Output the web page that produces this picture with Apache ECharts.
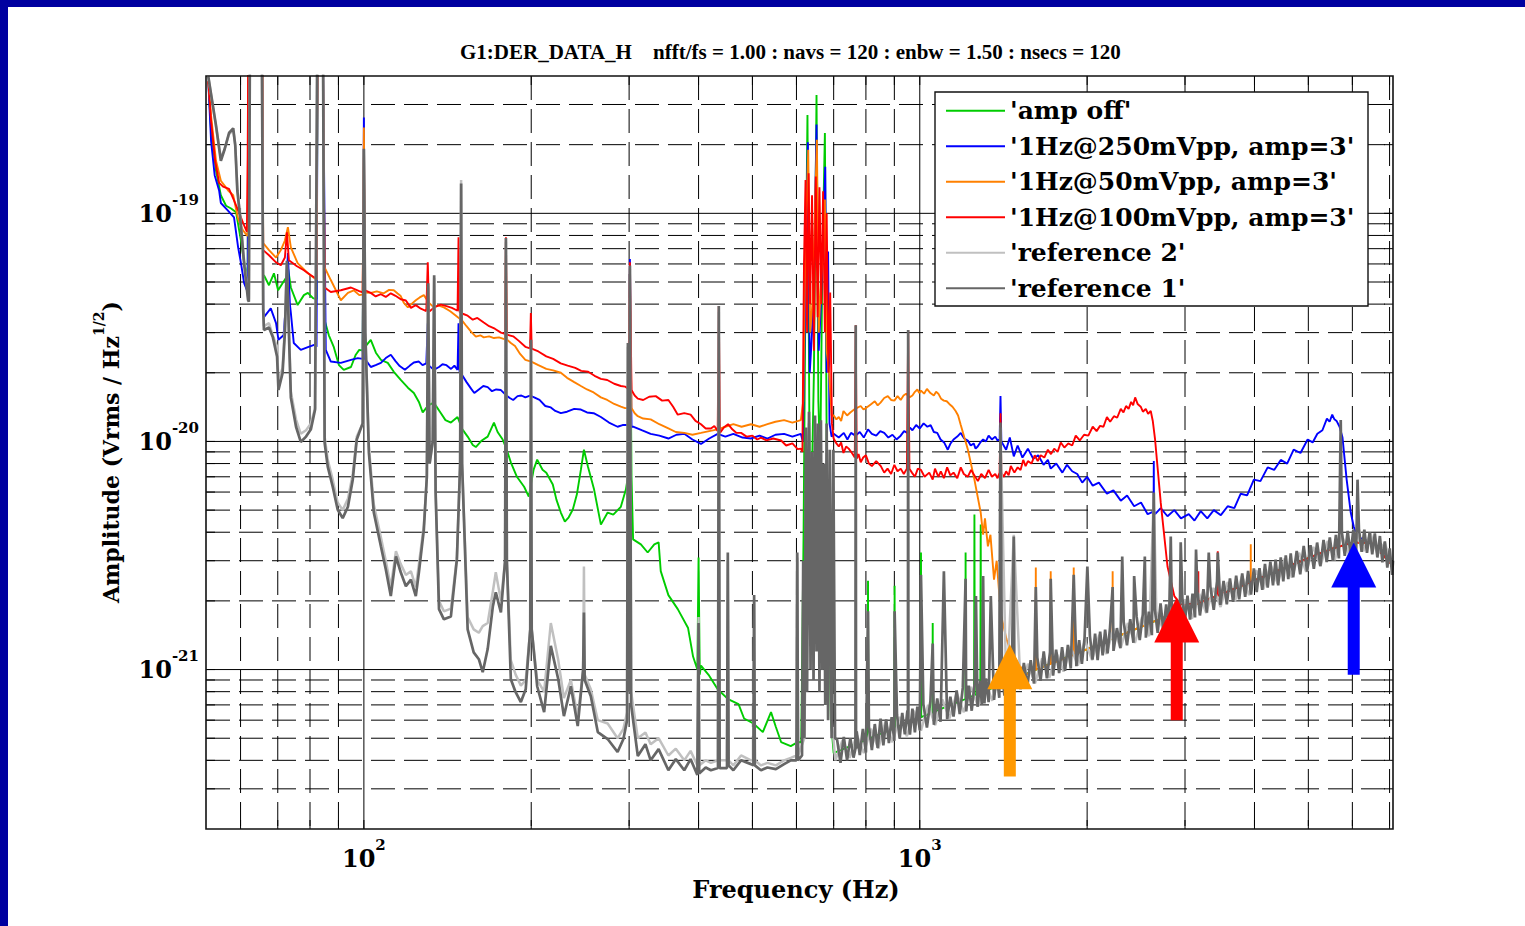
<!DOCTYPE html>
<html><head><meta charset="utf-8">
<script src="https://cdn.jsdelivr.net/npm/echarts@6.0.0/dist/echarts.min.js"></script>
<style>html,body{margin:0;padding:0;background:#fff;overflow:hidden}#c{width:1525px;height:926px}</style>
</head><body><div id="c"></div>
<script>
// Amplitudes are in units of 1e-21 Vrms/Hz^(1/2); frequencies in Hz.
const TITLE_CHANNEL = 'G1:DER_DATA_H';
const TITLE_PARAMS = 'nfft/fs = 1.00 : navs = 120 : enbw = 1.50 : nsecs = 120';
const X_NAME = 'Frequency (Hz)';
const SERIES_NAMES = ["'amp off'", "'1Hz@250mVpp, amp=3'", "'1Hz@50mVpp, amp=3'", "'1Hz@100mVpp, amp=3'", "'reference 2'", "'reference 1'"];
const X_RANGE = [52, 7100];
const Y_RANGE = [0.2, 400];
const Y_UNIT_EXP = -21;
const xGridHz = [60,70,80,90,100,200,300,400,500,600,700,800,900,1000,2000,3000,4000,5000,6000,7000];
const yGridUnits = [0.3,0.4,0.5,0.6,0.7,0.8,0.9,1,2,3,4,5,6,7,8,9,10,20,30,40,50,60,70,80,90,100,200,300];

const ampOff = [[52.5,380],[53.1,231],[54.2,154],[55.3,120],[56.5,108],[57.7,105],[58.9,101],[60.1,76],[60.9,61],[61.6,53.5],[61.8,53],[62.0,700],[65.6,700],[65.9,52],[66.1,53.5],[67.5,48.4],[68.9,54.6],[70.1,46],[71.4,49.4],[72.4,52],[73.0,58],[73.9,47.3],[76.0,39.6],[78.0,43.8],[79.3,44.8],[81.0,42.5],[82.2,42],[82.6,700],[84.3,700],[85.0,34],[86.5,29.2],[88.3,25.9],[90.2,21.6],[92.0,20.6],[94.8,21.2],[96.7,24],[98.1,25.2],[99.5,25],[100,190],[100.5,26],[102.9,27.9],[105.1,24.5],[107.3,22.8],[110.4,22.1],[113.2,20.2],[116.5,18.6],[120,17.2],[123,16.3],[125.6,14.9],[127.6,13.4],[130.6,14.4],[133.6,14.8],[137.6,13.3],[140.2,12.4],[143.4,12.1],[147.4,12.8],[150.4,11.3],[153.7,10.5],[157,9.65],[159,9.45],[163,10.1],[167,10.5],[171.4,12.1],[174,11],[177.7,10.2],[180.7,9.2],[183.8,8.1],[188.5,7.0],[194.2,6.33],[198,5.73],[202,7.52],[205,8.32],[209.6,7.52],[212.9,7.29],[218.7,6.47],[222,5.56],[226.1,4.88],[229.9,4.45],[233.6,4.65],[237.6,5.03],[241.6,5.85],[245.7,7.52],[248.8,9.2],[253,7.75],[259.5,6.15],[266.9,4.32],[274.5,4.88],[281,4.78],[289.9,5.17],[296,6.15],[298.5,7.0],[299.5,7],[301,58],[303,7],[305,3.72],[315,3.54],[324,3.26],[333,3.54],[339,3.61],[342,2.7],[353,2.12],[367,1.84],[383,1.52],[391,1.14],[398,1.0],[400,3.1],[402,0.95],[404,1.04],[418,0.94],[433,0.82],[452,0.742],[472,0.705],[483,0.61],[502,0.58],[522,0.532],[540,0.651],[551,0.56],[563,0.481],[586,0.462],[603,0.481],[612,0.48],[618,4],[622,30],[628,270],[633,12],[638,5],[645,20],[652,330],[657,15],[662,8],[668,60],[675,225],[680,10],[686,2],[692,0.6],[700,0.43],[720,0.443],[760,0.467],[800,0.492],[806,0.495],[807,2.45],[808,0.497],[850,0.523],[900,0.554],[901,2.33],[902,0.555],[950,0.584],[1000,0.615],[1004,0.617],[1005,3.26],[1006,0.619],[1054,0.648],[1055,1.6],[1056,0.65],[1100,0.677],[1200,0.738],[1208,0.743],[1209,3.26],[1210,0.744],[1252,0.77],[1254,4.78],[1256,0.772],[1285,0.79],[1287,4.32],[1289,0.793],[1350,0.83],[1400,0.861],[1500,0.923],[1700,1.05],[2000,1.23],[2500,1.54],[3000,1.85],[3500,2.15],[4000,2.46],[4500,2.77],[5000,3.08],[5500,3.38],[6000,3.6],[6500,3.6],[7100,2.85]];

const amp250 = [[52.5,380],[53.1,208],[53.9,147],[54.9,126],[55.3,111],[56.9,103],[58.4,96],[59.4,71],[60.1,60.5],[60.9,49.4],[61.6,46],[61.8,46],[62.0,700],[65.6,700],[65.9,38],[66.1,35.1],[68.0,38.3],[69.5,33.0],[70.2,27.9],[71.7,29.2],[72.4,40],[73.0,67],[73.6,40],[73.9,36.6],[74.8,27],[77.0,25.2],[79.3,25.9],[81.4,26.5],[82.2,26],[82.6,700],[84.3,700],[85.4,25.2],[87.2,22.4],[90.9,22.1],[94.8,22.8],[97.5,23.2],[99.5,23],[100,263],[100.5,23],[102.9,21.2],[105,21.6],[107.3,22.1],[109.5,23.2],[111.8,24],[114,22.5],[116,21.4],[118.5,20.6],[121,21.5],[123,22.2],[125.6,22.4],[127.5,21.6],[129.5,22],[130.3,33],[131,21.5],[133.6,20.6],[136.5,21.2],[138.5,21.8],[140.8,21.6],[143.5,20.8],[145.5,21.5],[147.4,20.6],[148,33],[148.6,20.3],[150.5,19.4],[153,18.2],[156,17.0],[158,16.3],[161,16.9],[164,17.5],[167,17.3],[170,16.6],[173,16.9],[176.4,16.8],[180,16.0],[183,15.5],[185.6,15.2],[189,15.8],[192,15.9],[195.2,15.6],[199,15.9],[202.5,15.6],[207,15.2],[212,14.3],[216.9,14.1],[221,13.6],[226.1,13.3],[232,13.5],[239,13.9],[245.7,13.8],[252,13.4],[259,13.3],[266.9,12.8],[276,12.1],[286,11.6],[292,11.8],[299,11.8],[301,63],[303,11.6],[305,11.6],[316,11.2],[328,10.8],[340,10.6],[353,10.3],[365,10.7],[377,10.8],[390,10.2],[404,9.75],[418,10.3],[433,10.8],[447,10.5],[462,10.8],[480,10.4],[497,10.3],[515,10.6],[532,10.3],[550,10.7],[570,10.8],[590,10.5],[611,10.8],[616,10],[622,40],[629,205],[634,20],[640,30],[646,60],[652,245],[658,25],[664,40],[670,80],[676,160],[680,20],[684,68],[688,12],[694,10.5],[700,10.8],[715,10.4],[730,10.9],[741,10.2],[752,10.9],[766,10.6],[780,11.0],[793,10.4],[807,11.3],[820,10.8],[835,10.6],[849,11.1],[863,10.9],[878,10.4],[893,10.7],[908,10.2],[924,10.6],[937,11.1],[950,10.9],[960,11.5],[970,11.2],[985,11.8],[1000,11.4],[1016,12.0],[1032,11.6],[1046,11.8],[1060,11.0],[1075,10.9],[1090,10.2],[1106,9.9],[1123,9.2],[1136,9.8],[1150,10.2],[1168,10.5],[1185,10.9],[1202,10.3],[1220,10.1],[1235,9.6],[1250,9.8],[1260,9.3],[1271,9.5],[1285,9.9],[1300,10.2],[1315,10.0],[1330,10.6],[1348,10.2],[1367,10.5],[1380,10.1],[1392,10.2],[1397,15.8],[1402,10.0],[1430,9.2],[1452,10.4],[1476,8.6],[1500,9.6],[1530,8.5],[1565,9.3],[1600,8.4],[1633,8.7],[1670,7.9],[1700,8.3],[1720,7.6],[1760,8.0],[1805,7.3],[1840,7.9],[1880,7.4],[1920,7.2],[1960,6.6],[2000,7.0],[2047,6.4],[2100,6.6],[2171,5.9],[2230,6.1],[2299,5.5],[2360,5.8],[2430,5.2],[2500,5.4],[2570,4.8],[2620,4.9],[2634,5.0],[2636,8.2],[2638,5.0],[2650,4.8],[2713,5.1],[2790,4.7],[2870,5.0],[2950,4.6],[3047,4.8],[3120,4.5],[3202,4.95],[3290,4.6],[3380,5.0],[3480,4.75],[3580,5.2],[3680,5.1],[3779,5.9],[3880,5.8],[3990,6.8],[4100,6.7],[4225,7.7],[4340,7.5],[4460,8.3],[4580,8.0],[4705,9.2],[4840,8.9],[4985,10.2],[5090,9.9],[5190,10.8],[5300,11.2],[5400,12.6],[5460,12.2],[5520,13.1],[5570,12.5],[5620,12.3],[5690,11.6],[5760,10.4],[5860,6.8],[5960,4.88],[6034,4.24],[6110,3.83],[6500,3.6],[7100,2.85]];

const amp50 = [[52.5,380],[53.1,268],[54.2,170],[55.3,139],[57.0,126],[58.2,120],[59.4,94.5],[60.6,84.3],[61.6,80],[61.8,80],[62.0,700],[65.6,700],[65.9,74],[67.5,69],[69.5,64],[70.9,69],[72.1,76],[73.0,87],[73.9,71],[76.0,60.5],[79.3,54.6],[81.5,52],[82.2,51],[82.6,700],[84.3,700],[85.0,58],[87.2,51],[90.9,41.6],[93.6,44.8],[95.9,46],[98.1,43.8],[99.5,44],[100,238],[100.5,45],[102.9,44.8],[105.5,45.5],[108.6,44.6],[111,46.2],[113.2,46],[115,44.5],[116.5,43.4],[118,40.5],[120,38.7],[122,40.2],[124,41.6],[126,42.8],[128.2,43.8],[131,40.5],[133.6,38.7],[136,39.5],[139.3,38.7],[143,37.2],[147.4,35.1],[150,34.0],[153,32],[156,30.2],[159,28.8],[162,29.2],[164.3,28.6],[168,28.9],[171.4,28.4],[175,28.6],[179.5,28],[180.1,65],[180.8,28],[183.8,27],[187,26.2],[191,24.2],[195.2,22.8],[200,22.4],[206,21.6],[212.9,20.8],[219,20.5],[226.1,20],[232,19.0],[239,18.2],[245.7,17.5],[252,16.9],[259,16.4],[266.9,15.6],[274,15.2],[282,14.6],[289.9,14.2],[295,14.0],[299,14],[301,50],[303,14],[307,13.3],[311,12.9],[318,12.6],[328,12.5],[340,11.9],[353,11.4],[364,11.0],[377,10.9],[390,10.7],[404,10.9],[418,11.1],[433,11.3],[447,11.6],[462,11.9],[478,11.6],[497,11.9],[515,11.6],[532,11.9],[550,12.2],[570,12.4],[590,12.1],[611,12.4],[617,15],[622,60],[630,190],[635,30],[641,40],[647,90],[653,210],[658,30],[664,50],[670,70],[675,115],[680,25],[687,20],[694,13],[700,13.0],[708,12.5],[715,12.8],[722,12.3],[729,13.6],[740,13.0],[750,13.4],[765,13.9],[783,14.3],[792,13.8],[800,14.0],[815,14.5],[830,15.0],[840,14.4],[850,14.8],[863,15.5],[876,15.8],[888,15.2],[900,15.1],[912,15.8],[924,15.2],[935,15.9],[945,16.2],[958,15.6],[970,15.9],[980,16.5],[990,16.9],[998,16.3],[1005,16.7],[1018,16.2],[1030,17.0],[1045,16.3],[1060,15.9],[1070,16.5],[1080,16.2],[1092,15.4],[1105,15.1],[1118,15.0],[1130,14.6],[1145,14.2],[1160,13.6],[1172,13.0],[1185,11.8],[1220,9.25],[1254,6.8],[1287,4.88],[1300,3.9],[1310,4.6],[1326,3.47],[1340,3.9],[1360,2.48],[1375,3.0],[1399,1.75],[1432,1.36],[1458,1.2],[1550,0.95],[1616,1.0],[1617,2.8],[1618,1.0],[1719,1.06],[1720,2.7],[1721,1.06],[1891,1.16],[1892,2.8],[1893,1.16],[2000,1.23],[2222,1.37],[2223,2.7],[2224,1.37],[2600,1.6],[3000,1.85],[3500,2.15],[3938,2.42],[3939,3.54],[3940,2.42],[4500,2.77],[5000,3.08],[5500,3.38],[6000,3.6],[6500,3.6],[7100,2.85]];

const amp100 = [[52.5,382],[53.1,255],[54.0,170],[54.9,136],[55.8,131],[57.2,128],[58.4,114],[59.6,101],[60.6,91],[61.6,83],[61.8,180],[62.0,700],[65.6,700],[65.9,69],[67.5,65.5],[69.5,61],[70.9,59.2],[72.1,64],[72.7,82.6],[73.3,62.3],[75.8,58.6],[78.0,56.3],[80.3,53.5],[82.0,51.8],[82.6,700],[84.3,700],[85.0,47.3],[87.2,45.2],[90.9,46],[94.8,47.3],[98.1,45.6],[99.5,45],[100,175],[100.5,46],[102.9,44.8],[105,43.2],[107.3,44.2],[109.5,43.0],[111.8,44.6],[114,43.5],[116.5,42.0],[119,41.5],[121.5,38.5],[124,39.6],[126.6,38.2],[129.5,37.3],[130.3,61],[131,37],[134,38.8],[137.6,39.8],[140.8,39.2],[144,38.5],[147.4,37.4],[148,78.5],[148.6,37],[151,36.2],[153.7,35.6],[157,34.2],[160,34.8],[164.3,33.2],[168,32.0],[172,31.2],[176.4,30.0],[179.4,29.6],[180.1,78.5],[180.8,29.4],[185.6,28.9],[190,27.6],[195.2,26.0],[199,25.6],[199.7,36.6],[200.4,25.5],[206,24.8],[212.9,23.6],[219,23.0],[226,22.0],[232.6,21.5],[240,21.0],[246,20.4],[253.2,20.2],[260,19.4],[266.9,18.8],[274,18.6],[282,17.9],[289.9,17.5],[295,17.4],[299,17],[301,61],[303,16.8],[307,15.9],[311,15.4],[318,15.2],[326,15.7],[335,15.8],[344,15.1],[353,15.2],[360,14.2],[367,13.1],[377,13.3],[387,13.1],[395,12.3],[404,11.9],[412,11.4],[421,11.4],[427,11.7],[433,11.1],[435,39.2],[437,10.9],[444,11.5],[452,11.9],[460,11.3],[468,10.9],[477,10.9],[488,10.5],[500,10.6],[510,10.2],[518,10.4],[530,10.1],[545,10.3],[563,10.1],[575,9.6],[590,9.8],[603,9.25],[611,9.3],[615,9],[619,60],[623,140],[627,30],[631,150],[635,40],[640,120],[645,25],[650,145],[655,35],[660,130],[665,40],[670,125],[675,30],[680,100],[685,20],[690,45],[695,12],[700,10.3],[708,9.8],[715,9.5],[722,9.9],[729,8.9],[737,9.5],[745,9.3],[755,8.9],[764,8.5],[767,32.3],[770,8.4],[776,8.8],[783,8.1],[791,8.5],[800,8.7],[810,8.0],[820,7.8],[835,8.2],[851,7.8],[863,7.3],[875,7.6],[888,7.2],[900,7.9],[912,7.4],[924,7.6],[936,7.2],[948,7.6],[953,30.8],[958,7.6],[968,7.3],[980,7.0],[992,7.6],[1005,7.5],[1020,7.0],[1040,7.3],[1055,6.8],[1065,7.6],[1080,7.0],[1091,7.4],[1105,6.9],[1120,7.7],[1135,7.1],[1150,7.3],[1168,6.9],[1185,7.7],[1200,7.2],[1220,7.0],[1237,7.5],[1254,7.1],[1272,6.7],[1290,7.2],[1310,6.9],[1330,7.5],[1348,7.0],[1367,7.2],[1380,6.9],[1392,7.3],[1397,13.3],[1402,7.3],[1416,7.0],[1430,7.4],[1445,7.1],[1458,7.8],[1480,7.3],[1500,7.7],[1518,7.5],[1535,8.3],[1550,7.8],[1565,8.2],[1588,8.0],[1610,8.7],[1630,8.2],[1650,8.7],[1675,8.5],[1700,9.2],[1722,8.8],[1745,9.3],[1770,9.0],[1793,9.9],[1820,9.4],[1850,9.8],[1880,9.6],[1908,10.6],[1940,10.1],[1975,10.7],[2010,10.6],[2047,11.6],[2080,11.1],[2110,11.7],[2140,11.6],[2171,12.8],[2200,12.2],[2235,12.9],[2265,12.7],[2299,13.9],[2325,13.4],[2350,14.3],[2375,13.9],[2400,14.9],[2420,14.4],[2440,15.6],[2465,14.6],[2497,14.2],[2520,13.5],[2550,13.9],[2575,13.2],[2603,13.6],[2625,12.3],[2650,10.2],[2713,5.39],[2790,2.83],[2870,2.1],[2947,1.93],[3169,1.95],[3170,2.7],[3171,1.95],[3435,2.11],[3436,3.3],[3437,2.11],[4000,2.46],[4500,2.77],[5000,3.08],[5500,3.38],[6000,3.6],[6500,3.6],[7100,2.85]];

const ref2 = [[52.5,397],[54.2,240],[55.3,175],[56.1,190],[57.2,222],[58.2,232],[58.7,200],[59.2,130],[59.9,98],[60.9,62],[61.9,43],[62.1,42],[62.4,700],[65.5,700],[65.9,40],[66.1,32],[67.5,33],[68.6,29],[69.8,26],[70.2,18.5],[71.4,21],[72.1,32],[72.7,60],[73.3,32],[73.9,16.5],[75.5,12.5],[77.0,10.8],[78.7,11.2],[80.3,12],[81.7,14],[82.5,700],[84.4,700],[85.0,10.5],[86.1,8.3],[87.9,6.8],[89.7,5.4],[91.6,5.0],[93.6,5.6],[95.5,7.2],[97.1,10.5],[99.5,12],[100,190],[100.6,30],[102.1,9.5],[104.2,5.3],[107.3,3.8],[109.5,3.0],[111.8,2.3],[114.2,3.3],[116.5,2.9],[119,2.6],[121.5,2.7],[124,2.3],[125.6,2.9],[128.2,4.3],[129.8,7],[130.5,48],[131.3,8],[133,10],[133.8,52],[134.6,6],[136.5,2.0],[139.3,1.8],[143.4,1.85],[147,3.1],[149,8],[149.6,140],[150.2,8],[153.7,1.7],[157.6,1.5],[161,1.45],[163.6,1.55],[167,1.6],[170.6,2.2],[172.7,2.67],[176.4,2.0],[179.5,3],[180.1,75],[180.8,3],[183.8,1.1],[187.5,0.95],[191.6,0.85],[195.5,0.9],[199.2,1.5],[199.8,27],[200.4,1.5],[205,0.9],[211,0.8],[216.9,1.6],[223.7,1.1],[229,0.75],[235.7,0.9],[242.5,0.62],[248,1.0],[248.8,2.83],[249.6,0.95],[256,0.82],[263.5,0.6],[274.5,0.58],[286,0.5],[293,0.55],[297.5,0.65],[298.5,26],[299.5,0.8],[301,57],[302.5,0.8],[311,0.5],[321,0.53],[328,0.47],[339,0.5],[353,0.42],[364,0.45],[377,0.4],[387,0.44],[398,0.38],[400,1.7],[401,0.38],[412,0.4],[421,0.39],[433.5,0.4],[435,37],[436.5,0.4],[450,0.4],[451.5,3.0],[453,0.4],[462,0.38],[477,0.42],[497,0.4],[502,0.4],[503.5,2.0],[505,0.4],[518,0.38],[532,0.39],[551,0.38],[570,0.4],[586,0.41],[600,0.42],[602,3.1],[604,0.42],[620,0.5],[632,12],[640,1.0],[656,11],[668,1.0],[680,10],[694,0.6],[705,0.40],[726,0.49],[748,0.41],[770,0.52],[793,0.43],[817,0.55],[842,0.45],[867,0.59],[893,0.48],[920,0.62],[948,0.51],[976,0.66],[1005,0.54],[1035,0.70],[1066,0.57],[1098,0.74],[1131,0.61],[1165,0.79],[1200,0.65],[1236,0.84],[1273,0.69],[1311,0.89],[1350,0.73],[1390,0.94],[1397,11.5],[1432,0.77],[1476,3.9],[1519,0.82],[1565,1.06],[1612,0.87],[1660,1.12],[1710,0.92],[1761,1.19],[1814,0.98],[1868,1.26],[1924,1.04],[1982,1.34],[2041,1.10],[2103,1.42],[2166,1.17],[2231,1.51],[2298,1.24],[2367,1.60],[2438,1.31],[2511,1.70],[2586,1.40],[2636,5.9],[2664,1.80],[2744,1.48],[2826,1.91],[2911,1.57],[2998,2.03],[3088,1.67],[3181,2.15],[3276,1.77],[3375,2.28],[3476,1.88],[3580,2.42],[3688,1.99],[3798,2.57],[3912,2.12],[4030,2.73],[4151,2.25],[4275,2.89],[4403,2.38],[4535,3.07],[4671,2.53],[4812,3.25],[4956,2.68],[5105,3.45],[5258,2.84],[5416,3.66],[5578,3.02],[5746,3.88],[5918,3.18],[6096,4.0],[6279,3.3],[6467,3.95],[6661,3.2],[6861,3.6],[7067,2.85],[7100,2.9]];

const ref1 = [[52.5,397],[54.2,243],[55.3,170],[56.1,189],[57.2,225],[58.2,236],[58.7,198],[59.2,126],[59.9,96],[60.9,60],[61.9,41.6],[62.1,41],[62.4,700],[65.5,700],[65.9,38],[66.1,30.8],[67.5,31.6],[68.6,28.6],[69.8,23.5],[70.2,16.8],[71.4,19.9],[72.1,30],[72.7,62],[73.3,30],[73.9,15.6],[75.5,11.6],[77.0,9.95],[78.7,10.5],[80.3,11.3],[81.7,13.8],[82.5,700],[84.4,700],[85.0,9.85],[86.1,7.75],[87.9,6.33],[89.7,5.03],[91.6,4.61],[93.6,5.17],[95.5,6.8],[97.1,10.2],[99.5,12],[100,192],[100.6,30],[102.1,8.93],[104.2,4.88],[107.3,3.47],[109.5,2.75],[111.8,2.1],[114.2,3.13],[116.5,2.67],[119,2.32],[121.5,2.48],[124,2.1],[125.6,2.67],[128.2,4.11],[129.8,7],[130.5,49.4],[131.3,8],[133,10],[133.8,53.5],[134.6,6],[136.5,1.84],[139.3,1.66],[143.4,1.71],[147,3.04],[149,8],[149.6,135],[150.2,8],[153.7,1.5],[157.6,1.19],[161,1.11],[163.6,0.974],[167,1.23],[170.6,1.89],[172.7,2.18],[176.4,1.78],[179.5,3],[180.1,78],[180.8,3],[183.8,0.907],[187.5,0.796],[191.6,0.72],[195.5,0.82],[199.2,1.5],[199.8,27.9],[200.4,1.5],[205,0.845],[211,0.651],[216.9,1.27],[223.7,0.907],[229,0.625],[235.7,0.845],[242.5,0.565],[248,1.0],[248.8,1.78],[249.6,0.9],[256,0.764],[263.5,0.532],[274.5,0.496],[286,0.435],[293,0.496],[297.5,0.6],[298.5,27],[299.5,0.8],[301,59],[302.5,0.7],[311,0.418],[321,0.471],[328,0.40],[339,0.448],[353,0.362],[364,0.405],[377,0.362],[387,0.405],[398,0.345],[400,1.6],[401,0.35],[412,0.372],[421,0.362],[433.5,0.37],[435,39.2],[436.5,0.37],[450,0.37],[451.5,3.26],[453,0.38],[462,0.362],[477,0.40],[497,0.385],[502,0.38],[503.5,2.12],[505,0.38],[518,0.362],[532,0.372],[551,0.366],[570,0.385],[586,0.40],[600,0.4],[602,3.26],[604,0.4],[614,0.42],[617,3.0],[620,0.5],[624,11.5],[627,0.8],[632,13.5],[636,1.0],[640,9],[644,0.9],[648,13.0],[652,1.2],[656,12.0],[660,0.8],[664,12.4],[668,1.0],[672,8],[676,0.7],[680,12],[684,0.6],[689,9.2],[694,0.5],[699,9.2],[704,0.5],
[710,0.493],[720,0.390],[730,0.507],[740,0.400],[750,0.50],[760,0.411],[766,0.45],[767,32.3],[768,0.45],[770,0.535],[780,0.422],[790,0.549],[800,0.433],[807,1.8],[810,0.563],[820,0.444],[830,0.577],[840,0.454],[850,0.61],[860,0.465],[870,0.605],[880,0.476],[890,0.619],[900,0.487],[901,1.8],[910,0.632],[920,0.498],[930,0.646],[940,0.52],[950,0.660],[952,0.6],[953,30.8],[954,0.6],[960,0.519],[970,0.674],[980,0.530],[990,0.688],[1000,0.541],[1005,2.6],[1015,0.705],[1030,0.557],[1045,0.726],[1055,1.3],[1060,0.573],[1075,0.747],[1090,0.590],[1105,2.7],[1120,0.606],[1135,0.76],[1150,0.622],[1165,0.810],[1180,0.638],[1195,0.831],[1209,2.5],[1212,0.655],[1225,0.851],[1240,0.66],[1255,0.872],[1262,2.1],[1270,0.687],[1285,0.893],[1293,0.70],[1300,2.57],[1307,0.71],[1315,0.914],[1330,0.720],[1342,2.1],[1360,0.736],[1375,0.956],[1390,0.752],[1397,12.1],[1405,1.0],[1420,0.768],[1435,0.997],[1450,0.784],[1465,1.018],[1476,3.83],[1480,0.801],[1495,1.039],[1517,0.821],[1539,1.070],[1561,0.845],[1583,1.100],[1605,0.868],[1617,2.3],[1627,1.131],[1649,0.892],[1671,1.2],[1693,0.916],[1715,1.192],[1720,2.5],[1737,0.940],[1759,1.222],[1781,0.964],[1803,1.253],[1825,0.987],[1847,1.284],[1869,1.011],[1892,2.6],[1913,1.035],[1935,1.345],[1957,1.059],[1979,1.375],[2002,2.83],[2023,1.406],[2045,1.106],[2067,1.437],[2089,1.10],[2111,1.467],[2133,1.154],[2155,1.498],[2177,1.178],[2199,1.528],[2223,2.3],[2231,1.207],[2263,1.52],[2295,1.242],[2313,3.13],[2327,1.617],[2359,1.276],[2391,1.662],[2423,1.311],[2430,2.57],[2455,1.706],[2487,1.345],[2519,1.751],[2540,3.13],[2551,1.380],[2583,1.795],[2615,1.415],[2636,5.97],[2647,1.840],[2679,1.449],[2711,1.95],[2743,1.484],[2775,1.929],[2807,1.519],[2828,3.83],[2839,1.973],[2871,1.553],[2903,2.018],[2935,1.588],[2947,3.61],[2967,2.062],[2999,1.622],[3031,2.107],[3063,1.657],[3095,2.151],[3127,1.692],[3140,3.36],[3159,2.196],[3191,1.726],[3238,2.250],[3285,1.777],[3310,3.26],[3332,2.316],[3379,1.828],[3426,2.44],[3436,3.26],[3473,1.92],[3520,2.446],[3567,1.930],[3614,2.512],[3661,1.981],[3708,2.577],[3755,2.031],[3802,2.642],[3849,2.082],[3896,2.708],[3943,2.133],[3990,2.773],[4037,2.184],[4084,2.78],[4131,2.235],[4178,2.904],[4225,2.286],[4272,2.969],[4319,2.337],[4366,3.034],[4413,2.34],[4460,3.100],[4507,2.438],[4554,3.165],[4601,2.489],[4648,3.230],[4695,2.540],[4765,3.312],[4835,2.616],[4905,3.48],[4975,2.691],[5045,3.506],[5115,2.767],[5185,3.604],[5255,2.843],[5325,3.701],[5395,2.96],[5465,3.798],[5535,2.994],[5605,3.895],[5675,3.070],[5718,12.4],[5745,3.99],[5815,3.15],[5885,4.05],[5955,3.2],[6025,4.1],[6095,3.25],[6130,6.8],[6165,4.15],[6235,3.28],[6305,4.1],[6375,3.25],[6445,4.0],[6515,3.2],[6585,3.95],[6655,3.1],[6725,3.85],[6795,2.95],[6865,3.65],[6935,2.8],[7005,3.4],[7075,2.6],[7100,3.0]];

// Annotation arrows: frequency, tip amplitude, tail amplitude
const arrowHz = [1452, 2899, 6034];
const arrowTip = [1.29, 2.07, 3.61];
const arrowTail = [0.34, 0.60, 0.95];

const COLORS = ['#00CC00', '#0000FF', '#FF8000', '#FF0000', '#C0C0C0', '#666666'];
const LINE_WIDTHS = [1.9, 1.9, 1.9, 1.9, 2.5, 2.7];
const ARROW_COLORS = ['#FF9900', '#FF0000', '#0000FF'];
const SERIF = 'DejaVu Serif';

const seriesData = [ampOff, amp250, amp50, amp100, ref2, ref1];
const isDecade = v => Math.abs(Math.log10(v) - Math.round(Math.log10(v))) < 1e-6;

const supRich = {
  b: { fontFamily: SERIF, fontWeight: 'bold', fontSize: 24, lineHeight: 42, color: '#000' },
  s: { fontFamily: SERIF, fontWeight: 'bold', fontSize: 15, lineHeight: 15, verticalAlign: 'top', color: '#000' }
};

const chart = echarts.init(document.getElementById('c'), null, { renderer: 'svg' });

const lineSeries = seriesData.map((d, i) => ({
  type: 'line', name: SERIES_NAMES[i], data: d, showSymbol: false, symbol: 'none',
  lineStyle: { color: COLORS[i], width: LINE_WIDTHS[i] }, itemStyle: { color: COLORS[i] },
  z: 2, silent: true, animation: false, clip: true
}));

const TICK = 9;
const gridV = {
  type: 'custom', name: 'gridV', silent: true, z: 1, animation: false,
  data: xGridHz.map(f => [f, 1]),
  renderItem: (params, api) => {
    const cs = params.coordSys; const f = api.value(0);
    const x = api.coord([f, 1])[0];
    const st = { stroke: '#000', lineWidth: 1, lineDash: isDecade(f) ? null : [24, 9] };
    return { type: 'group', children: [
      { type: 'line', shape: { x1: x, y1: cs.y, x2: x, y2: cs.y + cs.height }, style: st },
      { type: 'line', shape: { x1: x, y1: cs.y + cs.height, x2: x, y2: cs.y + cs.height - TICK }, style: { stroke: '#000', lineWidth: 1 } },
      { type: 'line', shape: { x1: x, y1: cs.y, x2: x, y2: cs.y + TICK }, style: { stroke: '#000', lineWidth: 1 } }
    ] };
  }
};
const gridH = {
  type: 'custom', name: 'gridH', silent: true, z: 1, animation: false,
  data: yGridUnits.map(a => [100, a]),
  renderItem: (params, api) => {
    const cs = params.coordSys; const a = api.value(1);
    const y = api.coord([100, a])[1];
    const st = { stroke: '#000', lineWidth: 1, lineDash: isDecade(a) ? null : [24, 9] };
    return { type: 'group', children: [
      { type: 'line', shape: { x1: cs.x, y1: y, x2: cs.x + cs.width, y2: y }, style: st },
      { type: 'line', shape: { x1: cs.x, y1: y, x2: cs.x + TICK, y2: y }, style: { stroke: '#000', lineWidth: 1 } },
      { type: 'line', shape: { x1: cs.x + cs.width, y1: y, x2: cs.x + cs.width - TICK, y2: y }, style: { stroke: '#000', lineWidth: 1 } }
    ] };
  }
};
const frame = {
  type: 'custom', name: 'frame', silent: true, z: 5, animation: false,
  data: [[100, 1]],
  renderItem: (params) => {
    const cs = params.coordSys;
    return { type: 'rect', shape: { x: cs.x, y: cs.y, width: cs.width, height: cs.height }, style: { fill: 'none', stroke: '#111', lineWidth: 1.6 } };
  }
};
const arrows = {
  type: 'custom', name: 'arrows', silent: true, z: 6, animation: false, clip: false,
  data: arrowHz.map((f, i) => [f, arrowTip[i], arrowTail[i]]),
  encode: { x: 0, y: 1 },
  renderItem: (params, api) => {
    const tip = api.coord([api.value(0), api.value(1)]);
    const tail = api.coord([api.value(0), api.value(2)]);
    const x = tip[0], hy = tip[1] + 45, hw = 22.5, sw = 6;
    return { type: 'polygon', shape: { points: [[x, tip[1]], [x + hw, hy], [x + sw, hy], [x + sw, tail[1]], [x - sw, tail[1]], [x - sw, hy], [x - hw, hy]] },
      style: { fill: ARROW_COLORS[params.dataIndex], stroke: null } };
  }
};

chart.setOption({
  backgroundColor: '#fff',
  animation: false,
  grid: { left: 206, top: 76, width: 1187, height: 753, show: false },
  xAxis: {
    type: 'log', logBase: 10, min: X_RANGE[0], max: X_RANGE[1],
    axisLine: { show: false }, axisTick: { show: false }, splitLine: { show: false }, minorTick: { show: false },
    axisLabel: { margin: 8, fontFamily: SERIF, fontWeight: 'bold', fontSize: 24, color: '#000', showMinLabel: false, showMaxLabel: false,
      formatter: v => isDecade(v) ? '{b|10}{s|' + Math.round(Math.log10(v)) + '}' : '', rich: supRich }
  },
  yAxis: {
    type: 'log', logBase: 10, min: Y_RANGE[0], max: Y_RANGE[1],
    axisLine: { show: false }, axisTick: { show: false }, splitLine: { show: false },
    axisLabel: { margin: 7, fontFamily: SERIF, fontWeight: 'bold', fontSize: 24, color: '#000', showMinLabel: false, showMaxLabel: false,
      formatter: v => isDecade(v) ? '{b|10}{s|' + (Math.round(Math.log10(v)) + Y_UNIT_EXP) + '}' : '', rich: supRich }
  },
  legend: {
    data: SERIES_NAMES, orient: 'vertical', left: 935, top: 92, padding: [1, 11, 1, 11],
    icon: 'rect', itemWidth: 59, itemHeight: 2, itemGap: 0, selectedMode: false, z: 10,
    textStyle: { fontFamily: SERIF, fontWeight: 'bold', fontSize: 25, color: '#000', lineHeight: 35.5 }
  },
  graphic: [
    { type: 'rect', z: 0, silent: true, shape: { x: 0, y: 0, width: 1525, height: 7 }, style: { fill: '#0000A0' } },
    { type: 'rect', z: 0, silent: true, shape: { x: 0, y: 0, width: 8, height: 926 }, style: { fill: '#0000A0' } },
    { type: 'rect', z: 9, silent: true, shape: { x: 935, y: 92, width: 433, height: 214 }, style: { fill: '#fff', stroke: '#111', lineWidth: 1.4 } },
    { type: 'text', z: 10, x: 460, y: 52, style: { text: TITLE_CHANNEL, font: 'bold 21px "Liberation Serif"', fill: '#000', align: 'left', verticalAlign: 'middle' } },
    { type: 'text', z: 10, x: 653, y: 52, style: { text: TITLE_PARAMS, font: 'bold 21px "Liberation Serif"', fill: '#000', align: 'left', verticalAlign: 'middle' } },
    { type: 'text', z: 10, x: 796, y: 889, style: { text: X_NAME, font: 'bold 24px "DejaVu Serif"', fill: '#000', align: 'center', verticalAlign: 'middle' } },
    { type: 'text', z: 10, x: 111, y: 452, rotation: Math.PI / 2, style: {
        text: '{m|Amplitude (Vrms / Hz}{s|1/2}{m|)}', align: 'center', verticalAlign: 'middle',
        rich: { m: { fontFamily: SERIF, fontWeight: 'bold', fontSize: 22, lineHeight: 38, fill: '#000' },
                s: { fontFamily: SERIF, fontWeight: 'bold', fontSize: 14, lineHeight: 14, verticalAlign: 'top', fill: '#000' } } } }
  ],
  series: [gridV, gridH].concat(lineSeries).concat([frame, arrows])
});
</script></body></html>
